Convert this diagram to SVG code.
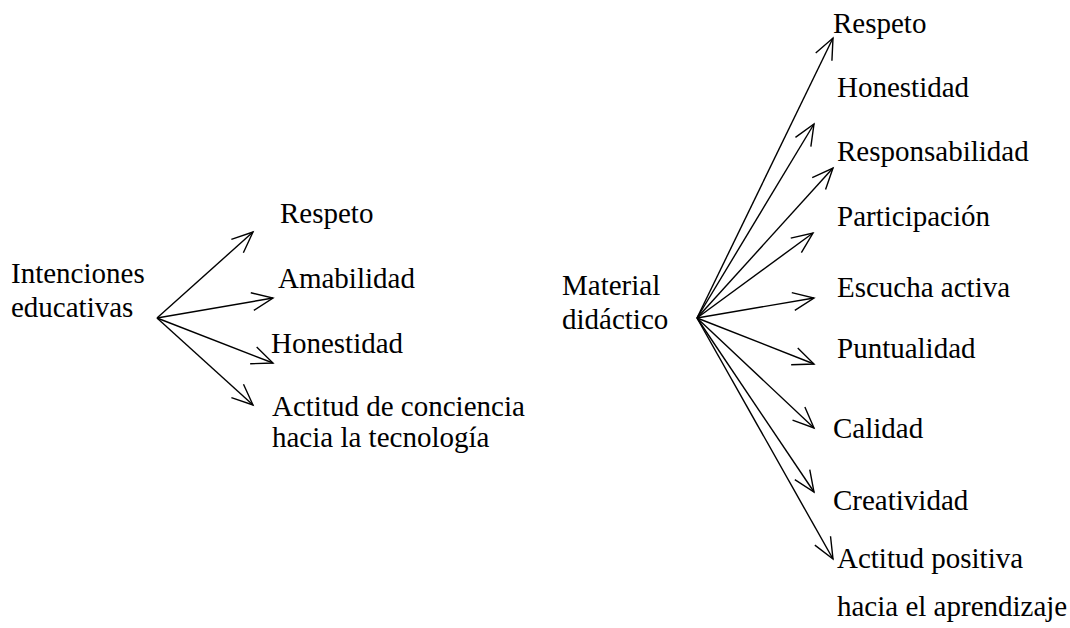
<svg xmlns="http://www.w3.org/2000/svg" width="1070" height="628" viewBox="0 0 1070 628">
<style>
text{font-family:"Liberation Serif","Times New Roman",Times,serif;font-size:29px;fill:#000}
.c line{stroke:#000;stroke-width:1.4;marker-end:url(#ah)}
</style>
<defs>
<marker id="ah" markerUnits="userSpaceOnUse" orient="auto" markerWidth="30" markerHeight="30" refX="0" refY="0" viewBox="-25 -15 30 30" overflow="visible">
<path d="M-21,-9 L0,0 L-21,9" fill="none" stroke="#000" stroke-width="1.4"/>
</marker>
</defs>
<rect width="1070" height="628" fill="#fff"/>
<g class="c" id="connectors">
<line x1="157" y1="318" x2="253" y2="232"/>
<line x1="157" y1="318" x2="273" y2="298"/>
<line x1="157" y1="318" x2="273" y2="363"/>
<line x1="157" y1="318" x2="253" y2="405"/>
<line x1="697" y1="318" x2="833" y2="38"/>
<line x1="697" y1="318" x2="814" y2="124"/>
<line x1="697" y1="318" x2="833" y2="168"/>
<line x1="697" y1="318" x2="813" y2="233"/>
<line x1="697" y1="318" x2="814" y2="298"/>
<line x1="697" y1="318" x2="814" y2="364"/>
<line x1="697" y1="318" x2="814" y2="428"/>
<line x1="697" y1="318" x2="814" y2="492"/>
<line x1="697" y1="318" x2="833" y2="559"/>
</g>
<g id="n-intenciones"><text x="11" y="283">Intenciones</text><text x="11" y="317">educativas</text></g>
<g id="n-l-respeto"><text x="280" y="223">Respeto</text></g>
<g id="n-l-amabilidad"><text x="278" y="288">Amabilidad</text></g>
<g id="n-l-honestidad"><text x="271" y="353">Honestidad</text></g>
<g id="n-l-actitud"><text x="272" y="416">Actitud de conciencia</text><text x="272" y="447">hacia la tecnología</text></g>
<g id="n-material"><text x="562" y="295">Material</text><text x="562" y="329">didáctico</text></g>
<g id="n-r-respeto"><text x="833" y="33">Respeto</text></g>
<g id="n-r-honestidad"><text x="837" y="97">Honestidad</text></g>
<g id="n-r-responsabilidad"><text x="837" y="161">Responsabilidad</text></g>
<g id="n-r-participacion"><text x="837" y="226">Participación</text></g>
<g id="n-r-escucha"><text x="837" y="297">Escucha activa</text></g>
<g id="n-r-puntualidad"><text x="837" y="358">Puntualidad</text></g>
<g id="n-r-calidad"><text x="833" y="438">Calidad</text></g>
<g id="n-r-creatividad"><text x="833" y="510">Creatividad</text></g>
<g id="n-r-actitud"><text x="837" y="568">Actitud positiva</text><text x="837" y="616">hacia el aprendizaje</text></g>
</svg>
